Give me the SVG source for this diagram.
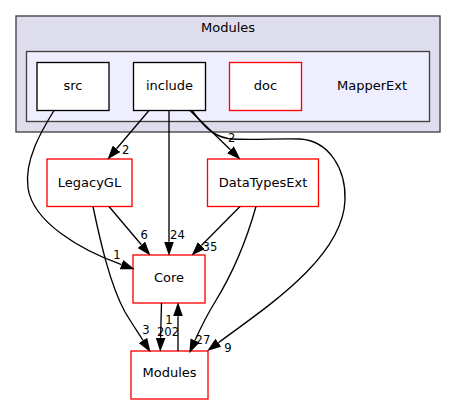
<svg xmlns="http://www.w3.org/2000/svg" width="456" height="404" viewBox="0 0 456 404">
<style>
.cl{stroke:#404040;stroke-width:1.33}
.nd{fill:#ffffff;stroke-width:1.33}
.blk{stroke:#000000}
.red{stroke:#ff0000}
.t{font-family:"DejaVu Sans","Liberation Sans",sans-serif;font-size:13px;fill:#000000;text-anchor:middle}
.e path{fill:none;stroke:#000000;stroke-width:1.33}
.el{font-family:"DejaVu Sans","Liberation Sans",sans-serif;font-size:11.6px;fill:#000000;text-anchor:middle}
</style>
<defs>
<marker id="ah" markerUnits="userSpaceOnUse" markerWidth="14" markerHeight="10" viewBox="0 0 13.3 9.34" refX="0" refY="4.67" orient="auto">
<path d="M0,0 L13.3,4.67 L0,9.34 z" fill="#000000"/>
</marker>
</defs>
<rect width="456" height="404" fill="#ffffff"/>
<g id="cluster_Modules">
<rect class="cl" x="16" y="16" width="424" height="116" fill="#ddddee"/>
<text class="t" x="228" y="32">Modules</text>
</g>
<g id="cluster_MapperExt">
<rect class="cl" x="26.5" y="51.5" width="403" height="70" fill="#eeeeff"/>
<text class="t" x="372" y="90">MapperExt</text>
</g>
<g id="node_src">
<rect class="nd blk" x="37" y="62.5" width="72" height="48"/>
<text class="t" x="73" y="90">src</text>
</g>
<g id="node_include">
<rect class="nd blk" x="133.5" y="62.5" width="72" height="48"/>
<text class="t" x="169.5" y="90">include</text>
</g>
<g id="node_doc">
<rect class="nd red" x="229.5" y="62.5" width="72" height="48"/>
<text class="t" x="265.5" y="90">doc</text>
</g>
<g id="node_LegacyGL">
<rect class="nd red" x="47" y="159" width="85" height="47.5"/>
<text class="t" x="89.5" y="187">LegacyGL</text>
</g>
<g id="node_DataTypesExt">
<rect class="nd red" x="207.5" y="159" width="111" height="47.5"/>
<text class="t" x="263" y="187">DataTypesExt</text>
</g>
<g id="node_Core">
<rect class="nd red" x="133" y="255" width="72" height="48"/>
<text class="t" x="169" y="282">Core</text>
</g>
<g id="node_Modules">
<rect class="nd red" x="131" y="351" width="77" height="48"/>
<text class="t" x="169.5" y="377">Modules</text>
</g>
<g id="edges" class="e">
<path marker-end="url(#ah)" d="M54,110.5 C42,130 24,160 28,188 C33,222 80,250 121.5,264.6"/>
<text class="el" x="117" y="259">1</text>
<path marker-end="url(#ah)" d="M149,110.5 L116.5,148.8"/>
<text class="el" x="125.7" y="154">2</text>
<path marker-end="url(#ah)" d="M169,110.5 L169,241.7"/>
<text class="el" x="177.5" y="239">24</text>
<path marker-end="url(#ah)" d="M190,110.5 L230.4,149.7"/>
<text class="el" x="231.7" y="142.3">2</text>
<path marker-end="url(#ah)" d="M192,110.5 C202,124 212,136 228,138.5 C250,141 275,138 300,139 C330,141 346,170 345,200 C343,258 265,308 218.4,342.7"/>
<text class="el" x="228" y="352.3">9</text>
<path marker-end="url(#ah)" d="M109,206.5 L141.4,244.8"/>
<text class="el" x="144.3" y="239">6</text>
<path marker-end="url(#ah)" d="M93,206.5 C100,240 110,285 125,312 C131,322 137,331 143,340.4"/>
<text class="el" x="146" y="334">3</text>
<path marker-end="url(#ah)" d="M240,206.5 L201.4,245.5"/>
<text class="el" x="210" y="250.7">35</text>
<path marker-end="url(#ah)" d="M256,206.5 C248,235 236,268 215,302 C207,315 201,327 195,340.4"/>
<text class="el" x="203" y="344">27</text>
<path marker-end="url(#ah)" d="M161.5,303 L160.6,337.7"/>
<text class="el" x="168" y="336">202</text>
<path marker-end="url(#ah)" d="M178,351 L178,316.3"/>
<text class="el" x="169" y="323.5">1</text>
</g>
</svg>
